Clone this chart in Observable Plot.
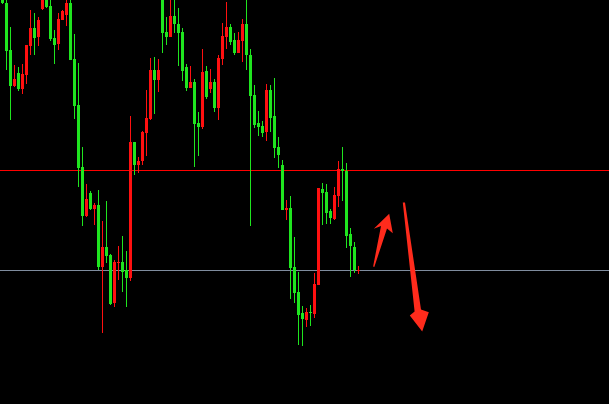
<!DOCTYPE html>
<html>
<head>
<meta charset="utf-8">
<script src="https://cdn.jsdelivr.net/npm/d3@7"></script>
<script src="https://cdn.jsdelivr.net/npm/@observablehq/plot@0.6"></script>
<style>
  html, body { margin: 0; padding: 0; background: #000; overflow: hidden; }
  #chart svg { display: block; }
</style>
</head>
<body>
<div id="chart"></div>
<script>
// OHLC data (arbitrary price units)
const open  = [1503,1497,1450,1414,1427,1411,1425,1454,1472,1463,1491,1502,1494,1462,1456,1480,1485,1497,1441,1395,1333,1284,1307,1291,1295,1233,1253,1245,1197,1237,1238,1230,1222,1358,1335,1339,1367,1381,1430,1420,1503,1468,1463,1484,1476,1468,1433,1412,1418,1377,1373,1429,1411,1418,1392,1441,1463,1473,1460,1447,1459,1476,1445,1405,1377,1374,1368,1410,1384,1353,1335,1290,1292,1233,1208,1187,1180,1188,1186,1215,1311,1308,1289,1281,1304,1331,1329,1266,1253,1229];
const high  = [1506,1503,1473,1435,1433,1436,1455,1490,1487,1483,1504,1504,1502,1470,1487,1490,1502,1503,1466,1437,1353,1316,1309,1297,1310,1279,1299,1246,1240,1254,1264,1249,1384,1358,1343,1369,1410,1442,1443,1441,1506,1483,1503,1503,1492,1472,1436,1434,1421,1388,1451,1434,1431,1421,1445,1477,1498,1476,1467,1468,1481,1503,1451,1415,1389,1379,1416,1415,1422,1363,1340,1300,1304,1263,1228,1194,1192,1195,1227,1312,1317,1316,1291,1313,1339,1353,1337,1272,1258,1234];
const low   = [1496,1430,1380,1413,1409,1406,1416,1445,1445,1454,1490,1492,1459,1436,1450,1480,1474,1440,1381,1313,1274,1283,1290,1275,1230,1167,1237,1195,1193,1220,1208,1193,1219,1325,1327,1335,1344,1380,1386,1408,1447,1455,1463,1467,1434,1419,1409,1412,1333,1344,1371,1401,1407,1388,1380,1435,1451,1455,1445,1447,1438,1430,1274,1372,1364,1363,1359,1368,1342,1332,1290,1280,1201,1197,1155,1154,1173,1174,1182,1215,1275,1276,1276,1280,1293,1299,1252,1223,1227,1226];
const close = [1497,1449,1414,1421,1411,1426,1455,1472,1462,1480,1502,1493,1461,1455,1481,1489,1497,1440,1394,1332,1284,1301,1291,1295,1233,1253,1244,1196,1238,1238,1228,1222,1358,1335,1339,1368,1382,1430,1420,1430,1467,1463,1484,1476,1467,1429,1412,1418,1376,1373,1428,1403,1418,1392,1442,1464,1473,1458,1447,1460,1476,1445,1404,1375,1373,1367,1410,1382,1352,1345,1290,1292,1232,1207,1185,1181,1188,1187,1216,1312,1307,1287,1282,1305,1331,1329,1264,1254,1230,1230];

// Horizontal levels
const levelRed = 1330;
const levelGrey = 1230;

// Hand-drawn arrows (candle index, price)
const arrowUpI = [96.55, 97.45, 96.0, 92.83, 92.53, 94.5, 92.7, 96.55];
const arrowUpP = [1286.7, 1267.3, 1272, 1233.5, 1234, 1274.5, 1271.7, 1286.7];
const arrowDownI = [99.95, 100.5, 104.5, 106.45, 104.8, 101.7, 102.9, 99.95];
const arrowDownP = [1298, 1298, 1191, 1188.3, 1169, 1185, 1189, 1298];

const UP = "#ff1010";
const DOWN = "#1fe51f";

const candles = open.map((o, i) => {
  const c = close[i];
  const lo = Math.min(o, c);
  let hi = Math.max(o, c);
  if (hi - lo < 1) hi = lo + 1;
  return {i, o, h: high[i], l: low[i], c, bLo: lo, bHi: hi, color: c > o ? UP : DOWN};
});
const arrowUp = arrowUpI.map((x, k) => ({x, y: arrowUpP[k]}));
const arrowDown = arrowDownI.map((x, k) => ({x, y: arrowDownP[k]}));

const W = 609, H = 404;
const chart = Plot.plot({
  width: W,
  height: H,
  margin: 0,
  style: {background: "#000", overflow: "hidden"},
  x: {type: "linear", domain: [-0.625, (W - 2.5) / 4], axis: null},
  y: {type: "linear", domain: [1096, 1500], axis: null},
  marks: [
    Plot.ruleY([levelRed], {stroke: "#ff0000", strokeWidth: 1}),
    Plot.ruleY([levelGrey], {stroke: "#7f8c9e", strokeWidth: 1}),
    Plot.rect(candles, {x1: d => d.i - 0.125, x2: d => d.i + 0.125, y1: "l", y2: "h", fill: "color"}),
    Plot.rect(candles, {x1: d => d.i - 0.375, x2: d => d.i + 0.375, y1: "bLo", y2: "bHi", fill: "color"}),
    Plot.line(arrowUp, {x: "x", y: "y", fill: "#ff2b1c", stroke: "none", curve: "linear"}),
    Plot.line(arrowDown, {x: "x", y: "y", fill: "#ff2b1c", stroke: "none", curve: "linear"})
  ],
  color: {type: "identity"}
});
document.getElementById("chart").appendChild(chart);
</script>
</body>
</html>
